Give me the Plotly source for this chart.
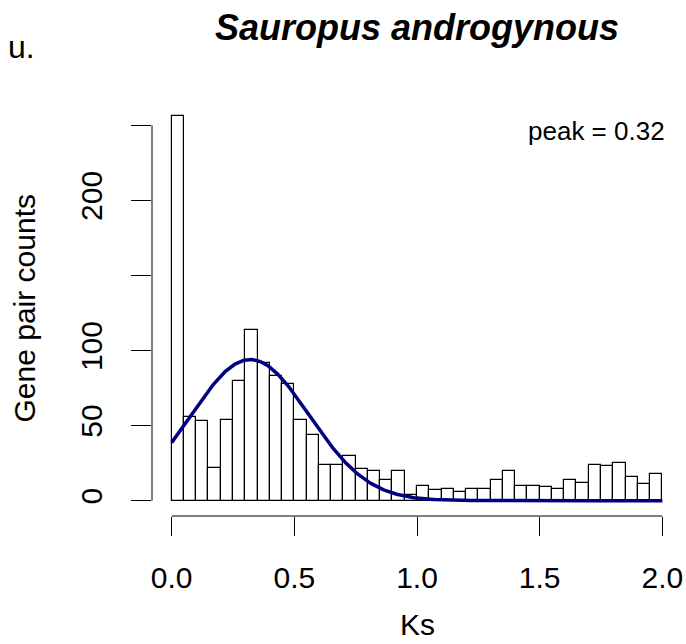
import numpy as np
import plotly.graph_objects as go

# ---- data ----
bin_width = 0.05
counts = [256, 56, 53, 22, 54, 80, 114, 92, 83, 78,
          54, 44, 24, 24, 30, 21, 20, 14, 20, 4,
          10, 7, 8, 6, 8, 8, 14, 20, 10, 10,
          9, 8, 14, 12, 24, 23, 25, 16, 11, 18]
fit_mean = 0.32
fit_sd = 0.24
fit_amp = 94.0
peak_label = "peak = 0.32"
x_tickvals = [0.0, 0.5, 1.0, 1.5, 2.0]
x_ticktext = ["0.0", "0.5", "1.0", "1.5", "2.0"]
y_tickvals = [0, 50, 100, 150, 200, 250]
y_ticktext = ["0", "50", "100", "", "200", ""]
title_text = "Sauropus androgynous"
panel_label = "u."

# ---- derived ----
n = len(counts)
centers = [bin_width * (i + 0.5) for i in range(n)]
xs = np.linspace(0, 2, 400)
ys = fit_amp * np.exp(-(xs - fit_mean) ** 2 / (2 * fit_sd ** 2))

FONT = "Liberation Sans, Arial, Helvetica, sans-serif"

fig = go.Figure()
fig.add_trace(go.Bar(
    x=centers, y=counts, width=bin_width,
    marker=dict(color="white", line=dict(color="black", width=1.2)),
    showlegend=False, hoverinfo="skip"))
fig.add_trace(go.Scatter(
    x=xs, y=ys, mode="lines",
    line=dict(color="#000080", width=3.5),
    showlegend=False, hoverinfo="skip"))

W, H = 686, 644
ml, mr, mt, mb = 152, 4, 101, 128
pw = W - ml - mr
ph = H - mt - mb

def px_to_paper_x(p):
    return (p - ml) / pw

def px_to_paper_y(p):
    return (H - mb - p) / ph

fig.update_layout(
    width=W, height=H,
    margin=dict(l=ml, r=mr, t=mt, b=mb, pad=0),
    plot_bgcolor="white", paper_bgcolor="white",
    font=dict(family=FONT, color="black", size=30),
    bargap=0,
    xaxis=dict(range=[-0.08, 2.08], showgrid=False, zeroline=False,
               showline=False, ticks="outside", ticklen=19, tickwidth=1,
               tickcolor="black", tickvals=x_tickvals, ticktext=x_ticktext,
               tickfont=dict(size=30, family=FONT), ticklabelstandoff=16),
    yaxis=dict(range=[-10.24, 266.24], showgrid=False, zeroline=False,
               showline=False, ticks="outside", ticklen=20, tickwidth=1,
               tickcolor="black", tickvals=y_tickvals, ticktext=y_ticktext,
               tickangle=-90, tickfont=dict(size=30, family=FONT),
               ticklabelstandoff=17),
    shapes=[
        dict(type="line", xref="x", yref="paper", x0=0, x1=2, y0=0, y1=0,
             line=dict(color="black", width=1)),
        dict(type="line", xref="paper", yref="y", x0=0, x1=0, y0=0, y1=250,
             line=dict(color="black", width=1)),
    ],
    annotations=[
        dict(text="<b><i>" + title_text + "</i></b>", xref="paper", yref="paper",
             x=0.5, y=px_to_paper_y(27), xanchor="center", yanchor="middle",
             showarrow=False, font=dict(size=36, family=FONT)),
        dict(text=panel_label, xref="paper", yref="paper",
             x=px_to_paper_x(6), y=px_to_paper_y(47), xanchor="left", yanchor="middle",
             showarrow=False, font=dict(size=32, family=FONT)),
        dict(text="Ks", xref="paper", yref="paper",
             x=0.5, y=px_to_paper_y(624), xanchor="center", yanchor="middle",
             showarrow=False, font=dict(size=30, family=FONT)),
        dict(text="Gene pair counts", xref="paper", yref="paper",
             x=px_to_paper_x(24), y=0.5, xanchor="center", yanchor="middle",
             textangle=-90, showarrow=False, font=dict(size=30, family=FONT)),
        dict(text=peak_label, xref="x", yref="y",
             x=2.02, y=246, xanchor="right", yanchor="middle",
             showarrow=False, font=dict(size=26, family=FONT)),
    ],
)

fig.write_html("out.html")
